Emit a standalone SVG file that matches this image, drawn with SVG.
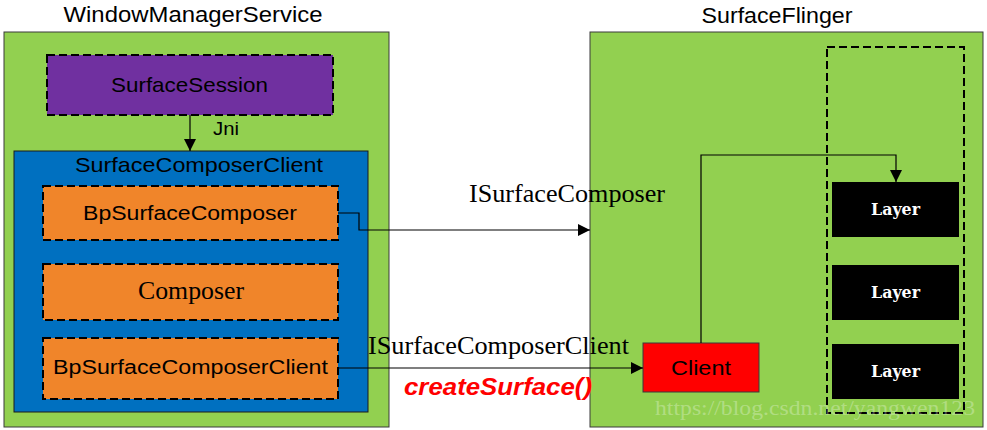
<svg xmlns="http://www.w3.org/2000/svg" width="987" height="430" viewBox="0 0 987 430">
<defs>
<style>
.green{fill:#92D050;stroke:#3a3a3a;stroke-width:1}
.dash{stroke:#000;stroke-width:2;stroke-dasharray:8,4}
.sans{font-family:"Liberation Sans","Open Sans",sans-serif;fill:#000}
.serif{font-family:"Liberation Serif","DejaVu Serif",serif;fill:#000}
.conn{fill:none;stroke:#000;stroke-width:1.2}
.layer{fill:#000}
.ltxt{font-family:"DejaVu Serif","Liberation Serif",serif;font-size:17px;font-weight:bold;fill:#fff}
</style>
<marker id="arr" viewBox="0 0 12 12" refX="12" refY="6" markerWidth="12" markerHeight="12" markerUnits="userSpaceOnUse" orient="auto">
<path d="M0,0 L12,6 L0,12 Z" fill="#000"/>
</marker>
</defs>
<rect width="987" height="430" fill="#fff"/>

<g id="wms">
<rect class="green" x="4" y="32" width="385" height="395"/>
<text class="sans" x="193" y="22" font-size="22" text-anchor="middle" textLength="259" lengthAdjust="spacingAndGlyphs">WindowManagerService</text>
</g>

<g id="sf">
<rect class="green" x="590" y="32" width="393" height="395"/>
<text class="sans" x="777" y="23" font-size="22" text-anchor="middle" textLength="151" lengthAdjust="spacingAndGlyphs">SurfaceFlinger</text>
</g>

<g id="surfaceSession">
<rect class="dash" x="47" y="55" width="286" height="60" fill="#7030A0"/>
<text class="sans" x="189.5" y="92" font-size="21" text-anchor="middle" textLength="157" lengthAdjust="spacingAndGlyphs">SurfaceSession</text>
</g>

<g id="surfaceComposerClient">
<rect x="14" y="151" width="354" height="261" fill="#0070C0" stroke="#1a1a1a" stroke-width="1"/>
<text class="sans" x="199" y="172" font-size="21" text-anchor="middle" textLength="248" lengthAdjust="spacingAndGlyphs">SurfaceComposerClient</text>
</g>

<g id="bpSurfaceComposer">
<rect class="dash" x="43" y="186" width="295" height="54" fill="#F0852A"/>
<text class="sans" x="190" y="220" font-size="20" text-anchor="middle" textLength="214" lengthAdjust="spacingAndGlyphs">BpSurfaceComposer</text>
</g>

<g id="composer">
<rect class="dash" x="43" y="264" width="295" height="56" fill="#F0852A"/>
<text class="serif" x="191" y="299" font-size="26" text-anchor="middle" textLength="106" lengthAdjust="spacingAndGlyphs">Composer</text>
</g>

<g id="bpSurfaceComposerClient">
<rect class="dash" x="43" y="338" width="295" height="61" fill="#F0852A"/>
<text class="sans" x="190.5" y="374" font-size="20" text-anchor="middle" textLength="275" lengthAdjust="spacingAndGlyphs">BpSurfaceComposerClient</text>
</g>

<g id="layerGroup">
<rect x="827" y="47" width="137" height="366" fill="none" class="dash"/>
</g>

<g id="layer1">
<rect class="layer" x="832" y="182" width="127" height="55"/>
<text class="ltxt" x="895.5" y="215" text-anchor="middle" textLength="49" lengthAdjust="spacingAndGlyphs">Layer</text>
</g>
<g id="layer2">
<rect class="layer" x="832" y="265" width="127" height="55"/>
<text class="ltxt" x="895.5" y="298" text-anchor="middle" textLength="49" lengthAdjust="spacingAndGlyphs">Layer</text>
</g>
<g id="layer3">
<rect class="layer" x="832" y="344" width="127" height="55"/>
<text class="ltxt" x="895.5" y="377" text-anchor="middle" textLength="49" lengthAdjust="spacingAndGlyphs">Layer</text>
</g>

<g id="client">
<rect x="643" y="343" width="116" height="49" fill="#FF0000" stroke="#3a3a3a" stroke-width="1"/>
<text class="sans" x="701" y="375" font-size="20" text-anchor="middle" textLength="60" lengthAdjust="spacingAndGlyphs">Client</text>
</g>

<g id="connectors">
<path class="conn" d="M190,115 V151" marker-end="url(#arr)"/>
<path class="conn" d="M338,213 H359 V230 H590" marker-end="url(#arr)"/>
<path class="conn" d="M338,368 H643" marker-end="url(#arr)"/>
<path class="conn" d="M701,343 V155 H896 V182" marker-end="url(#arr)"/>
<text class="sans" x="213" y="135" font-size="18" textLength="26" lengthAdjust="spacingAndGlyphs">Jni</text>
<text class="serif" x="469" y="202" font-size="26" textLength="196" lengthAdjust="spacingAndGlyphs">ISurfaceComposer</text>
<text class="serif" x="368" y="354" font-size="26" textLength="261" lengthAdjust="spacingAndGlyphs">ISurfaceComposerClient</text>
<text class="sans" x="404" y="395" font-size="23" font-weight="bold" font-style="italic" style="fill:#FF0000" textLength="188" lengthAdjust="spacingAndGlyphs">createSurface()</text>
</g>

<text class="serif" x="655" y="415" font-size="20" style="fill:#ffffff;fill-opacity:0.3" textLength="320" lengthAdjust="spacingAndGlyphs">https://blog.csdn.net/yangwen123</text>
</svg>
